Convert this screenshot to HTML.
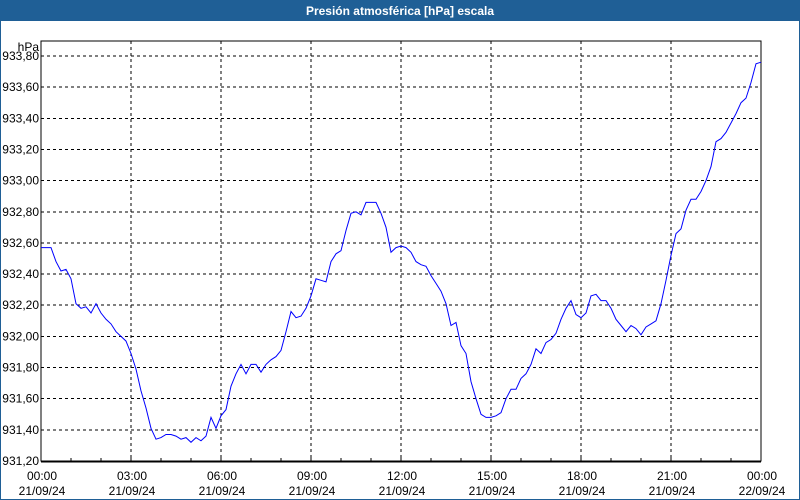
<!DOCTYPE html>
<html><head><meta charset="utf-8">
<style>
html,body{margin:0;padding:0;background:#fff;}
#wrap{position:relative;width:798px;height:498px;border:1px solid #1f5f96;background:#fff;overflow:hidden;font-family:"Liberation Sans",Tahoma,sans-serif;}
#hdr{position:absolute;left:0;top:0;width:798px;height:20px;background:#1f5f96;color:#fff;font-weight:bold;font-size:12px;line-height:20px;text-align:center;}
svg{position:absolute;left:0;top:0;}
text{font-family:"Liberation Sans",Tahoma,sans-serif;font-size:12px;fill:#000;}
</style></head><body>
<div id="wrap">
<div id="hdr">Presión atmosférica [hPa] escala</div>
<svg id="chart" width="800" height="500"></svg>
</div>
<script>
const yTicks=[931.2,931.4,931.6,931.8,932.0,932.2,932.4,932.6,932.8,933.0,933.2,933.4,933.6,933.8];
const xTickHours=[0,3,6,9,12,15,18,21,24];
const xTickTimes=["00:00","03:00","06:00","09:00","12:00","15:00","18:00","21:00","00:00"];
const xTickDates=["21/09/24","21/09/24","21/09/24","21/09/24","21/09/24","21/09/24","21/09/24","21/09/24","22/09/24"];
const stepMinutes=10;
const pressure=[932.57,932.57,932.57,932.48,932.42,932.43,932.37,932.21,932.18,932.19,932.15,932.21,932.15,932.11,932.08,932.03,932.00,931.97,931.89,931.79,931.65,931.54,931.41,931.34,931.35,931.37,931.37,931.36,931.34,931.35,931.32,931.35,931.33,931.36,931.48,931.41,931.49,931.53,931.68,931.76,931.82,931.76,931.82,931.82,931.77,931.82,931.85,931.87,931.91,932.03,932.16,932.12,932.13,932.18,932.26,932.37,932.36,932.35,932.48,932.53,932.55,932.68,932.79,932.80,932.78,932.86,932.86,932.86,932.79,932.70,932.54,932.57,932.58,932.57,932.54,932.48,932.46,932.45,932.39,932.34,932.29,932.21,932.07,932.09,931.94,931.89,931.71,931.60,931.50,931.48,931.48,931.49,931.51,931.60,931.66,931.66,931.73,931.76,931.82,931.92,931.89,931.96,931.98,932.02,932.11,932.18,932.23,932.14,932.12,932.15,932.26,932.27,932.23,932.23,932.18,932.11,932.07,932.03,932.07,932.05,932.01,932.06,932.08,932.10,932.21,932.36,932.52,932.66,932.69,932.81,932.88,932.88,932.93,933.00,933.09,933.25,933.27,933.31,933.37,933.43,933.50,933.53,933.63,933.75,933.76];

const L=40,R=760,T=40,B=460,yMin=931.2,yMax=933.8,yTop=55;
const sx=h=>L+(R-L)*h/24;
const sy=v=>B-(v-yMin)/(yMax-yMin)*(B-yTop);
const NS="http://www.w3.org/2000/svg";
const svg=document.getElementById('chart');
function mk(tag,attrs){const e=document.createElementNS(NS,tag);for(const k in attrs)e.setAttribute(k,attrs[k]);svg.appendChild(e);return e;}

// gridlines
yTicks.forEach(v=>{
  if(v===yMin)return;
  const g=mk('line',{x1:L,x2:R,y1:sy(v),y2:sy(v),stroke:'#000','stroke-dasharray':'3,3','shape-rendering':'crispEdges'});
  
  
});
xTickHours.forEach(h=>{
  if(h===0||h===24)return;
  const g=mk('line',{x1:sx(h),x2:sx(h),y1:T,y2:B,stroke:'#000','stroke-dasharray':'3,3','shape-rendering':'crispEdges'});
  
  
});
// minor hour ticks
for(let h=1;h<24;h++){
  const t=mk('line',{x1:sx(h),x2:sx(h),y1:B-3,y2:B,stroke:'#000','shape-rendering':'crispEdges'});
  
  
}
// axes frame
const fr=mk('rect',{x:L,y:T,width:R-L,height:B-T,fill:'none',stroke:'#000','shape-rendering':'crispEdges'});


const xb=mk('line',{x1:L,x2:R,y1:B+0.5,y2:B+0.5,stroke:'#000','stroke-width':2});



// y labels
yTicks.forEach(v=>{
  const t=mk('text',{x:L-2,y:sy(v)+4,'text-anchor':'end'});
  t.textContent=v.toFixed(2).replace('.',',');
  
  
});
const u=mk('text',{x:L-2,y:T+10,'text-anchor':'end'});
u.textContent='hPa';



// x labels
xTickHours.forEach((h,i)=>{
  const t1=mk('text',{x:sx(h)+1,y:479,'text-anchor':'middle'});
  t1.textContent=xTickTimes[i];
  
  
  const t2=mk('text',{x:sx(h)+1,y:494,'text-anchor':'middle'});
  t2.textContent=xTickDates[i];
  
  
});

// series
const pts=pressure.map((v,i)=>sx(i*stepMinutes/60).toFixed(1)+','+sy(v).toFixed(1)).join(' ');
const line=mk('polyline',{points:pts,fill:'none',stroke:'#0000ff','stroke-width':1});


</script>
</body></html>
